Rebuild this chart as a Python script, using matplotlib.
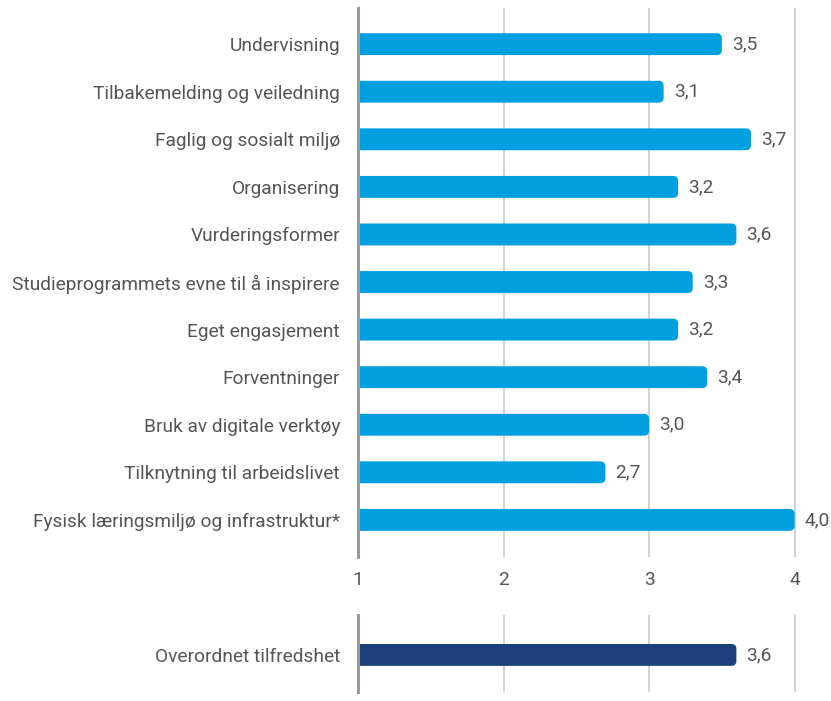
import matplotlib.pyplot as plt
import matplotlib.patches as mp

plt.rcParams.update({
    "font.family": ["Roboto", "DejaVu Sans"],
    "font.size": 13.8,
})

TEXT = "#555555"
BLUE = "#009FE0"
DARK = "#1B3F7A"
GRID = "#CFCFCF"
SPINE = "#9A9A9A"

categories = [
    "Undervisning",
    "Tilbakemelding og veiledning",
    "Faglig og sosialt miljø",
    "Organisering",
    "Vurderingsformer",
    "Studieprogrammets evne til å inspirere",
    "Eget engasjement",
    "Forventninger",
    "Bruk av digitale verktøy",
    "Tilknytning til arbeidslivet",
    "Fysisk læringsmiljø og infrastruktur*",
]
values = [3.5, 3.1, 3.7, 3.2, 3.6, 3.3, 3.2, 3.4, 3.0, 2.7, 4.0]
overall_label = ["Overordnet tilfredshet"]
overall_value = [3.6]
xticks = [1, 2, 3, 4]

W, H = 831, 701
fig = plt.figure(figsize=(W / 100, H / 100), dpi=100)
left = 358 / W
width = 1 - left
ax1 = fig.add_axes([left, 1 - 557 / H, width, (557 - 8) / H])
ax2 = fig.add_axes([left, 1 - 692 / H, width, (692 - 615) / H])

XMIN, XMAX = 1, 4.25
BAR_H = 0.46
FS = 13.8


def style(ax, labels, vals, color, ylim, show_x):
    pos = list(range(len(labels)))
    bars = ax.barh(pos, [v - XMIN for v in vals], left=XMIN, height=BAR_H, color=color)
    ax.set_xlim(XMIN, XMAX)
    ax.set_ylim(*ylim)
    # rounded right end; left end pushed past the spine so it stays square
    for b in bars:
        x0, y0, w, h = b.get_x(), b.get_y(), b.get_width(), b.get_height()
        b.set_visible(False)
        ax.add_patch(mp.FancyBboxPatch((x0 - 0.1, y0), w + 0.1, h,
                                       boxstyle="round,pad=0,rounding_size=0.035",
                                       mutation_aspect=3.05, facecolor=color,
                                       edgecolor="none", zorder=3))
    for p, v in zip(pos, vals):
        ax.text(v + 0.07, p, f"{v:.1f}".replace(".", ","), va="center", ha="left",
                color=TEXT, fontsize=FS)
    ax.set_yticks(pos)
    ax.set_yticklabels(labels, color=TEXT, fontsize=FS)
    ax.tick_params(axis="y", length=0, pad=13)
    ax.set_xticks(xticks)
    if show_x:
        ax.set_xticklabels([str(t) for t in xticks], color=TEXT, fontsize=FS)
        ax.tick_params(axis="x", length=0, pad=10)
    else:
        ax.tick_params(axis="x", length=0, labelbottom=False)
    ax.grid(axis="x", color=GRID, lw=1.3)
    ax.set_axisbelow(True)
    for s in ["top", "right", "bottom"]:
        ax.spines[s].set_visible(False)
    ax.spines["left"].set_color(SPINE)
    ax.spines["left"].set_linewidth(2.2)
    ax.spines["left"].set_zorder(5)


style(ax1, categories, values, BLUE, (10.78, -0.76), True)
style(ax2, overall_label, overall_value, DARK, (0.78, -0.84), False)

fig.savefig("out.png", dpi=100, facecolor="white")
